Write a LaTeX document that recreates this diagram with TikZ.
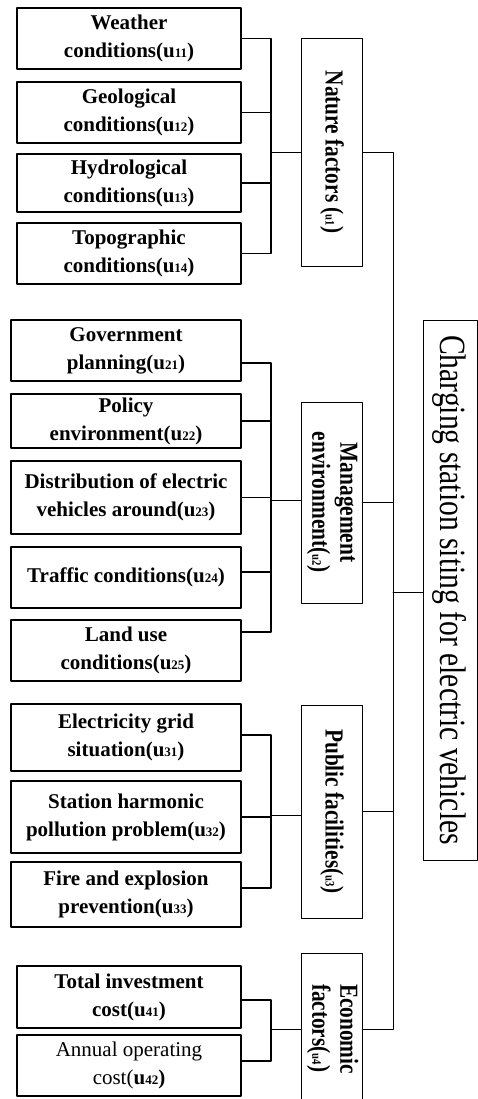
\documentclass[tikz,border=0pt]{standalone}
\usepackage{fontspec}
\setmainfont{Liberation Serif}
\newcommand{\subn}[1]{{\fontsize{13}{13}\selectfont #1}}
\newcommand{\vtext}[2][0.82]{\rotatebox{-90}{\scalebox{#1}[1]{#2}}}
\begin{document}
\begin{tikzpicture}[x=1pt,y=-1pt,line cap=round,line join=round,
  leaf/.style={draw,line width=1.8pt,minimum width=224pt,inner sep=0pt,align=center,font=\bfseries\fontsize{21}{28}\selectfont},
  leafw/.style={leaf,minimum width=230pt},
  cat/.style={draw,line width=0.9pt,minimum width=61pt,inner sep=0pt,font=\bfseries\fontsize{26}{28}\selectfont},
  bus/.style={line width=1.8pt},
  link/.style={line width=0.9pt}]
  \useasboundingbox (0,0) rectangle (478,1099);
  \node[leaf,minimum height=61pt] (u11) at (129,38.5) {Weather\\conditions(u\subn{11})};
  \node[leaf,minimum height=61pt] (u12) at (129,112.5) {Geological\\conditions(u\subn{12})};
  \node[leaf,minimum height=58pt] (u13) at (129,183) {Hydrological\\conditions(u\subn{13})};
  \node[leaf,minimum height=61pt] (u14) at (129,253.5) {Topographic\\conditions(u\subn{14})};
  \node[leafw,minimum height=61pt] (u21) at (126,350.5) {Government\\planning(u\subn{21})};
  \node[leafw,minimum height=54pt] (u22) at (126,421) {Policy\\environment(u\subn{22})};
  \node[leafw,minimum height=73pt] (u23) at (126,497.5) {Distribution of electric\\vehicles around(u\subn{23})};
  \node[leafw,minimum height=61pt] (u24) at (126,577.5) {Traffic conditions(u\subn{24})};
  \node[leafw,minimum height=61pt] (u25) at (126,650.5) {Land use\\conditions(u\subn{25})};
  \node[leafw,minimum height=67pt] (u31) at (126,737.5) {Electricity grid\\situation(u\subn{31})};
  \node[leafw,minimum height=72pt] (u32) at (126,817) {Station harmonic\\pollution problem(u\subn{32})};
  \node[leafw,minimum height=65pt] (u33) at (126,894.5) {Fire and explosion\\prevention(u\subn{33})};
  \node[leaf,minimum height=62pt] (u41) at (129,997) {Total investment\\cost(u\subn{41})};
  \node[leaf,minimum height=61pt] (u42) at (129,1065.5) {{\mdseries Annual operating}\\{\mdseries cost(}u\subn{42})};
  \node[cat,minimum height=228pt] (u1) at (332,152) {\vtext{Nature factors (\subn{u1})}};
  \node[cat,minimum height=201pt] (u2) at (332,502.5) {\vtext{\begin{tabular}{@{}c@{}}Management\\environment(\subn{u2})\end{tabular}}};
  \node[cat,minimum height=213pt] (u3) at (332,811.5) {\vtext{Public facilities(\subn{u3})}};
  \node[cat,minimum height=152pt] (u4) at (332,1029) {\vtext{\begin{tabular}{@{}l@{}}Economic\\factors(\subn{u4})\end{tabular}}};
  \node[draw,line width=0.9pt,minimum width=54pt,minimum height=540pt,inner sep=0pt,font=\fontsize{37}{40}\selectfont] (goal) at (450,590) {\vtext[0.8]{Charging station siting for electric vehicles}};
  \coordinate (j1) at (271,152);
  \coordinate (j2) at (271,500);
  \coordinate (j3) at (271,815);
  \coordinate (j4) at (271,1029);
  \coordinate (trunk) at (393,592);
  \draw[bus] (u11.east) -| (j1);
  \draw[bus] (u12.east) -| (j1);
  \draw[bus] (u13.east) -| (j1);
  \draw[bus] (u14.east) -| (j1);
  \draw[bus] ([yshift=-12.5pt]u21.east) -| (j2);
  \draw[bus] (u22.east) -| (j2);
  \draw[bus] (u23.east) -| (j2);
  \draw[bus] ([yshift=5.5pt]u24.east) -| (j2);
  \draw[bus] ([yshift=18.5pt]u25.east) -| (j2);
  \draw[bus] ([yshift=2.5pt]u31.east) -| (j3);
  \draw[bus] (u32.east) -| (j3);
  \draw[bus] ([yshift=6.5pt]u33.east) -| (j3);
  \draw[bus] ([yshift=-3pt]u41.east) -| (j4);
  \draw[bus] ([yshift=4.5pt]u42.east) -| (j4);
  \draw[link] (j1) -- (j1 -| u1.west);
  \draw[link] (j2) -- (j2 -| u2.west);
  \draw[link] (j3) -- (j3 -| u3.west);
  \draw[link] (j4) -- (j4 -| u4.west);
  \draw[link] (u1.east) -| (trunk);
  \draw[link] (u2.east) -| (trunk);
  \draw[link] (u3.east) -| (trunk);
  \draw[link] (u4.east) -| (trunk);
  \draw[link] (trunk) -- (trunk -| goal.west);
\end{tikzpicture}
\end{document}
